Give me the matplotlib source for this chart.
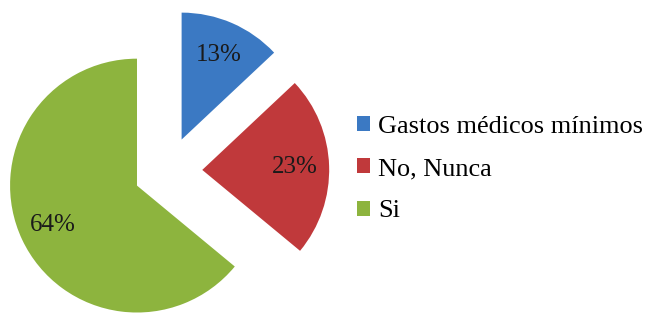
import matplotlib
matplotlib.use("Agg")
import matplotlib.pyplot as plt

labels = ["Gastos médicos mínimos", "No, Nunca", "Si"]
values = [13, 23, 64]
colors = ["#3b79c3", "#c0393b", "#8db43e"]

plt.rcParams["font.family"] = ["Liberation Serif", "DejaVu Serif"]

fig = plt.figure(figsize=(6.45, 3.14), dpi=100)
# pie axes sized in pixels so the circle sits where the reference has it
ax = fig.add_axes([3 / 645, -22 / 314, 330 / 645, 330 / 314])
wedges, texts, autotexts = ax.pie(
    values,
    colors=colors,
    startangle=90,
    counterclock=False,
    explode=[0.27, 0.27, 0.27],
    autopct="%d%%",
    pctdistance=0.73,
    textprops={"fontsize": 18, "color": "#1a1a1a"},
    wedgeprops={"linewidth": 0},
)
ax.set_xlim(-1.3, 1.3)
ax.set_ylim(-1.3, 1.3)
ax.set_aspect("equal")
ax.axis("off")

fig.legend(
    wedges, labels,
    loc="center left",
    bbox_to_anchor=(333 / 645, 1 - 169 / 314),
    frameon=False,
    fontsize=18.9,
    handlelength=0.52,
    handleheight=0.52,
    handletextpad=0.3,
    labelspacing=0.78,
)

fig.savefig("out.png", dpi=100)
